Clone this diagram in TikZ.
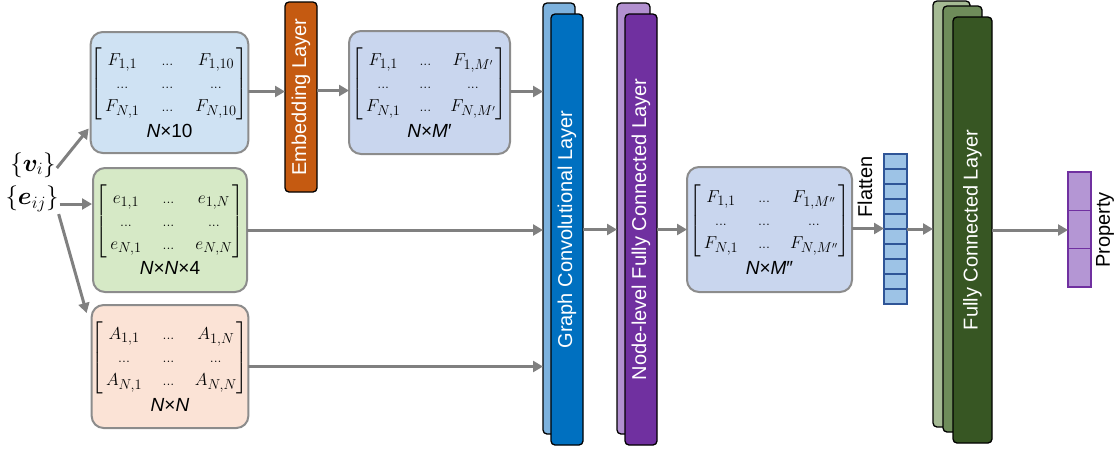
\documentclass[tikz,border=0pt]{standalone}
\usepackage{amsmath}
\usepackage{bm}
\usepackage{fontspec}
\setmainfont{Liberation Sans}
\usetikzlibrary{arrows.meta,calc}
\definecolor{boxgray}{RGB}{140,140,140}
\definecolor{arrgray}{RGB}{128,128,128}
\definecolor{cblue}{RGB}{207,226,243}
\definecolor{cgreen}{RGB}{214,233,198}
\definecolor{cpeach}{RGB}{251,227,214}
\definecolor{clav}{RGB}{201,214,238}
\definecolor{cemb}{RGB}{197,90,17}
\definecolor{cgcnB}{RGB}{125,178,222}
\definecolor{cgcnF}{RGB}{0,112,192}
\definecolor{cnfcB}{RGB}{178,144,208}
\definecolor{cnfcF}{RGB}{112,48,160}
\definecolor{cfcA}{RGB}{165,186,148}
\definecolor{cfcB}{RGB}{110,140,90}
\definecolor{cfcC}{RGB}{55,86,35}
\definecolor{cflat}{RGB}{157,195,230}
\definecolor{cflatb}{RGB}{47,85,151}
\definecolor{cprop}{RGB}{180,150,212}
\newcommand{\mdots}{{\scriptstyle\ldots}}
\newcommand{\mymat}[5]{$\left[\begin{array}{@{\,}c@{\hspace{#5}}c@{\hspace{#5}}c@{}}#1&\mdots&#2\\\mdots&\mdots&\mdots\\#3&\mdots&#4\end{array}\right]$}
\newcommand{\dimlab}[1]{{\fontsize{19}{22}\selectfont #1}}
\begin{document}
\begin{tikzpicture}[x=1pt,y=-1pt,
  mbox/.style={draw=boxgray, line width=2pt, rounded corners=12pt, align=center,
    inner sep=0pt, outer sep=0pt, font=\fontsize{19}{23}\selectfont},
  layer/.style={draw=black, line width=1.3pt, rounded corners=4pt, inner sep=0pt, outer sep=0pt},
  ltext/.style={rotate=90, text=white, font=\fontsize{20}{24}\selectfont},
  btext/.style={rotate=90, text=black, font=\fontsize{20}{24}\selectfont},
  arr/.style={draw=arrgray, line width=3pt, -{Triangle[length=10pt,width=11pt]}},
  cell/.style={line width=1.3pt}
]
\useasboundingbox (0,0) rectangle (1117,448);

% input boxes
\node[mbox, fill=cblue, minimum width=155pt, minimum height=121pt] (b1) at (169.5,92.5)
  {\mymat{F_{1,1}}{F_{1,10}}{F_{N,1}}{F_{N,10}}{22pt}\\[3pt]\dimlab{\textit{N}×10}};
\node[mbox, fill=cgreen, minimum width=154pt, minimum height=124pt] (b2) at (170,230)
  {\mymat{e_{1,1}}{e_{1,N}}{e_{N,1}}{e_{N,N}}{21pt}\\[3pt]\dimlab{\textit{N}×\textit{N}×4}};
\node[mbox, fill=cpeach, minimum width=154pt, minimum height=123pt] (b3) at (170,366.5)
  {\mymat{A_{1,1}}{A_{1,N}}{A_{N,1}}{A_{N,N}}{20.5pt}\\[3pt]\dimlab{\textit{N}×\textit{N}}};
\node[mbox, fill=clav, minimum width=161pt, minimum height=123pt] (b4) at (429.5,92.5)
  {\mymat{F_{1,1}}{F_{1,M'}}{F_{N,1}}{F_{N,M'}}{19pt}\\[3pt]\dimlab{\textit{N}×\textit{M}′}};
\node[mbox, fill=clav, minimum width=165pt, minimum height=125pt] (b5) at (769.5,229.5)
  {\mymat{F_{1,1}}{F_{1,M''}}{F_{N,1}}{F_{N,M''}}{20pt}\\[3pt]\dimlab{\textit{N}×\textit{M}″}};

% inputs
\node[font=\fontsize{23}{26}\selectfont, inner sep=0pt] (vi) at (33,165) {$\{\bm{v}_i\}$};
\node[font=\fontsize{23}{26}\selectfont, inner sep=0pt] (eij) at (32,199) {$\{\bm{e}_{ij}\}$};

% embedding layer
\node[layer, fill=cemb, minimum width=32pt, minimum height=190pt] (emb) at (301,97) {};
\node[ltext] at (emb) {Embedding Layer};

% graph convolutional layer
\node[layer, fill=cgcnB, minimum width=32pt, minimum height=431pt] (gcnB) at (559,218.5) {};
\node[layer, fill=cgcnF, minimum width=32pt, minimum height=431pt] (gcnF) at (567,229.5) {};
\node[ltext] at (gcnF) {Graph Convolutional Layer};

% node-level fully connected layer
\node[layer, fill=cnfcB, minimum width=33pt, minimum height=431pt] (nfcB) at (633.5,218.5) {};
\node[layer, fill=cnfcF, minimum width=32pt, minimum height=431pt] (nfcF) at (641,229.5) {};
\node[ltext] at (nfcF) {Node-level Fully Connected Layer};

% flatten vector
\node[inner sep=0pt, outer sep=0pt, minimum width=23pt, minimum height=150pt] (flat) at (895.5,229) {};
\foreach \i in {0,...,9}
  \draw[cell, fill=cflat, draw=cflatb] ($(flat.north west)+(0,\i*15)$) rectangle ++(23,15);
\node[btext] (flatlab) at (865,187) {Flatten};

% fully connected layer
\node[layer, fill=cfcA, minimum width=37pt, minimum height=426pt] (fcA) at (951.5,214) {};
\node[layer, fill=cfcB, minimum width=39pt, minimum height=426pt] (fcB) at (962.5,219) {};
\node[layer, fill=cfcC, minimum width=39pt, minimum height=426pt] (fcC) at (972.5,230) {};
\node[ltext] at (fcC) {Fully Connected Layer};

% property
\node[inner sep=0pt, outer sep=0pt, minimum width=23pt, minimum height=115pt] (prop) at (1079.5,229.5) {};
\foreach \i in {0,1,2}
  \draw[cell, fill=cprop, draw=cnfcF] ($(prop.north west)+(0,\i*38.333)$) rectangle ++(23,38.333);
\node[btext] (proplab) at (1105,230) {Property};

% connectors
\draw[arr] ($(vi.east)+(1,3)$) -- ($(b1.west)+(-2,36)$);
\draw[arr] ($(eij.east)+(1,5)$) -- ($(eij.east -| b2.west)+(-1,5)$);
\draw[arr] ($(eij.south east)+(0,2)$) -- ($(b3.north west)+(-5,8)$);
\draw[arr] ($(b1.east)+(0,-1)$) -- ($(b1.east -| emb.west)+(0,-1)$);
\draw[arr] ($(b4.west -| emb.east)+(0,-2)$) -- ($(b4.west)+(0,-2)$);
\draw[arr] ($(b4.east)+(0,-1)$) -- ($(b4.east -| gcnB.west)+(0,-1)$);
\draw[arr] (b2.east) -- (b2.east -| gcnB.west);
\draw[arr] (b3.east) -- (b3.east -| gcnB.west);
\draw[arr] (gcnF.east) -- (gcnF.east -| nfcB.west);
\draw[arr] (nfcF.east) -- (b5.west);
\draw[arr] ($(b5.east)+(0,-1)$) -- ($(b5.east -| flat.west)+(0,-1)$);
\draw[arr] (flat.east) -- (flat.east -| fcA.west);
\draw[arr] (fcC.east) -- (fcC.east -| prop.west);
\end{tikzpicture}
\end{document}
